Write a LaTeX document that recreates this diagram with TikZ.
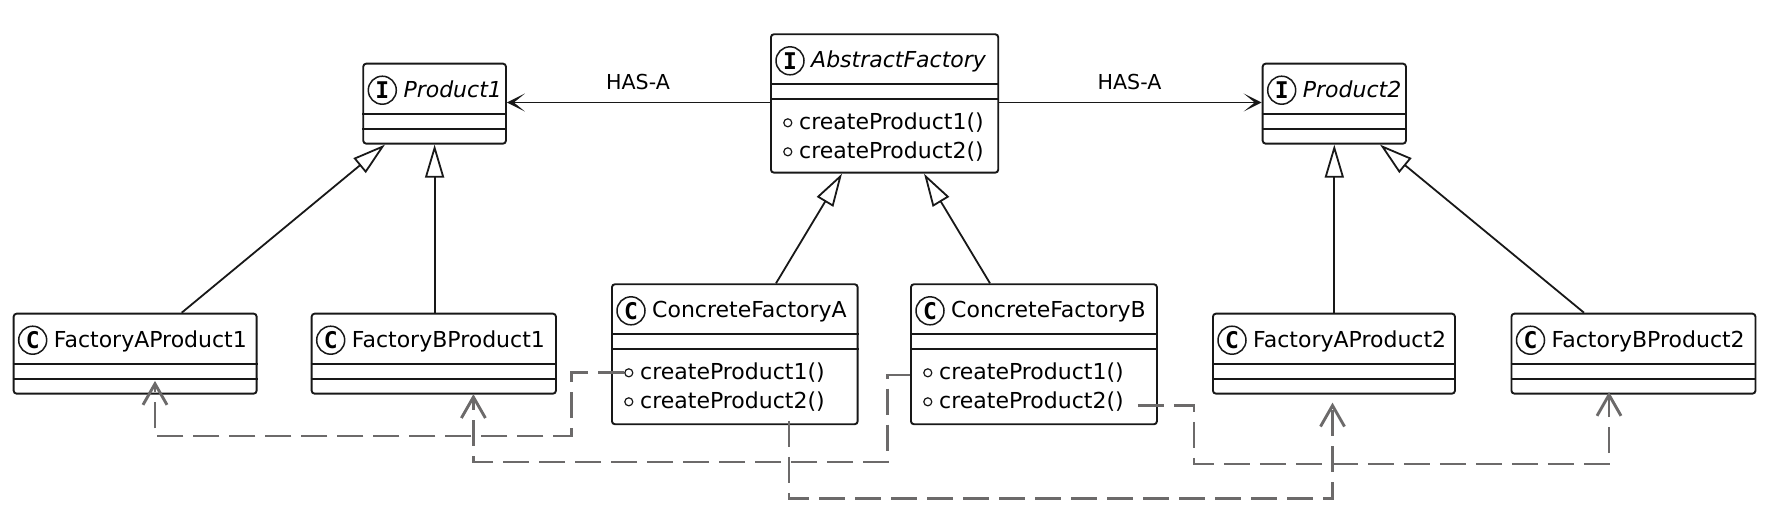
\documentclass[tikz,border=0pt]{standalone}
\usepackage{fontspec}
\setmainfont{DejaVu Sans}
\newfontfamily\spotfont{DejaVu Sans Mono}
\usetikzlibrary{arrows.meta,calc}
\definecolor{depgray}{RGB}{108,106,106}
\definecolor{ink}{RGB}{24,24,24}
\tikzset{
  cls/.style={draw=ink, line width=1.9pt, rounded corners=3pt, fill=white, inner sep=0pt, anchor=north west},
  sepline/.style={draw=ink, line width=1.8pt},
  spot/.style={circle, draw=ink, line width=1.5pt, minimum size=28pt, inner sep=0pt, font=\spotfont\bfseries\fontsize{23}{23}\selectfont},
  ttl/.style={inner sep=0pt, anchor=base west, font=\fontsize{22}{26}\selectfont},
  meth/.style={inner sep=0pt, anchor=base west, font=\fontsize{22}{26}\selectfont},
  vis/.style={circle, draw=ink, line width=1.2pt, minimum size=8pt, inner sep=0pt},
  lbl/.style={inner sep=0pt, font=\fontsize{20.6}{24}\selectfont},
  inh/.style={draw=ink, line width=1.8pt, -{Triangle[open,length=33pt,width=19pt,fill=white]}},
  has/.style={draw=ink, line width=1.8pt, -{Stealth[length=18pt,width=18pt,inset=11pt]}},
  dep/.style={draw=depgray, line width=2.9pt, dash pattern=on 26pt off 10pt, -{Straight Barb[length=21pt,width=24pt]}}
}
\newcommand\umlbox[8]{%
  \node[cls, minimum width=#4pt, minimum height=#5pt] (#1) at (#2,#3) {};
  \draw[sepline] ($(#1.north west)+(0,51)$) -- ($(#1.north east)+(0,51)$);
  \draw[sepline] ($(#1.north west)+(0,66)$) -- ($(#1.north east)+(0,66)$);
  \node[spot] (#1-spot) at ($(#1.north west)+(20,27.5)$) {#6};
  \node[ttl] (#1-title) at ($(#1.north west)+(41,34.5)$) {#8#7};
}
\newcommand\umlmeths[1]{%
  \node[vis] (#1-v1) at ($(#1.north west)+(17.8,89.5)$) {};
  \node[meth] (#1-m1) at ($(#1.north west)+(29,96)$) {createProduct1()};
  \node[vis] (#1-v2) at ($(#1.north west)+(17.8,118.5)$) {};
  \node[meth] (#1-m2) at ($(#1.north west)+(29,125)$) {createProduct2()};
}
\begin{document}
\begin{tikzpicture}[x=1pt, y=-1pt]
\useasboundingbox (0,0) rectangle (1783,528);

\umlbox{p1}{362.3}{62.7}{142.7}{80}{I}{Product1}{\itshape}
\umlbox{p2}{1261.7}{62.7}{143.3}{80}{I}{Product2}{\itshape}
\umlbox{af}{770}{33.3}{227.3}{138.4}{I}{AbstractFactory}{\itshape}
\umlmeths{af}
\umlbox{a1}{12.7}{312.7}{243}{80}{C}{FactoryAProduct1}{}
\umlbox{b1}{310.7}{312.7}{244.3}{80}{C}{FactoryBProduct1}{}
\umlbox{cfa}{611}{283.3}{245.7}{140}{C}{ConcreteFactoryA}{}
\umlmeths{cfa}
\umlbox{cfb}{910}{283.3}{246}{140}{C}{ConcreteFactoryB}{}
\umlmeths{cfb}
\umlbox{a2}{1212}{312.7}{242}{80}{C}{FactoryAProduct2}{}
\umlbox{b2}{1510.5}{312.7}{244}{80}{C}{FactoryBProduct2}{}

% HAS-A associations
\draw[has] ($(af.north west)+(0,69.2)$) -- ($(p1.north east)+(0,39.8)$);
\draw[has] ($(af.north east)+(0,69.2)$) -- ($(p2.north west)+(0,39.8)$);
\node[lbl] (l1) at (638,82) {HAS-A};
\node[lbl] (l2) at (1129.5,82) {HAS-A};

% inheritance
\draw[inh] ($(a1.north west)+(169,0)$) -- ($(p1.south west)+(22.7,0)$);
\draw[inh] (b1.north -| p1.south) -- (p1.south);
\draw[inh] ($(cfa.north west)+(165,0)$) -- ($(af.south west)+(72,0)$);
\draw[inh] ($(cfb.north west)+(80,0)$) -- ($(af.south west)+(154,0)$);
\draw[inh] (a2.north -| p2.south) -- (p2.south);
\draw[inh] ($(b2.north west)+(73.5,0)$) -- ($(p2.south west)+(118.3,0)$);

% dependencies
\coordinate (t1) at ($(a1.south west)+(142.3,-13.7)$);
\coordinate (t2) at ($(b1.south west)+(162.7,-0.5)$);
\coordinate (t3) at ($(a2.south west)+(120.5,8)$);
\coordinate (t4) at ($(b2.south west)+(98.5,-2.7)$);
\coordinate (s2) at ($(cfb.north west)+(0,91.7)$);
\coordinate (s3) at ($(cfa.south west)+(178,-4.3)$);
\coordinate (s4) at ($(cfb.south east)+(-20,-19.3)$);
\draw[dep] (cfa-v1.west) -| (571.7,436) -| (t1);
\draw[dep] (s2) -| (887.5,462) -| (t2);
\draw[dep] (s3) -- (s3 |- 0,498.5) -| (t3);
\draw[dep] (s4) -| (1194,464) -| (t4);
\end{tikzpicture}
\end{document}
